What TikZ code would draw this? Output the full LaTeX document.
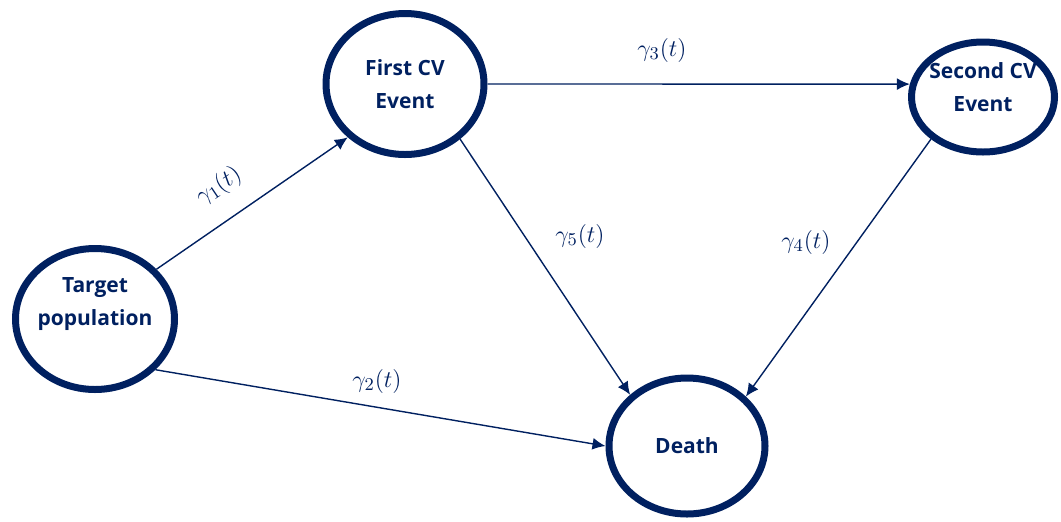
\documentclass[tikz,border=0pt]{standalone}
\usepackage{xcolor}
\usepackage{amsmath}
\usepackage{fontspec}
\usepackage{tikz}
\usetikzlibrary{arrows.meta}
\usetikzlibrary{shapes.geometric}
\newfontfamily\statefont{Open Sans}
\definecolor{navy}{RGB}{0,32,96}
\tikzset{
  state/.style={ellipse, draw=navy, line width=3.5pt, inner sep=0pt},
  statetext/.style={text=navy, font=\statefont\bfseries\fontsize{10.5}{16.5}\selectfont, align=center, inner sep=0pt},
  rate/.style={text=navy, font=\fontsize{13}{15}\selectfont, inner sep=0pt},
  flow/.style={-{Latex[length=6.5pt, width=6pt]}, draw=navy, line width=0.7pt}
}

\begin{document}
\begin{tikzpicture}[x=0.5pt, y=-0.5pt]
\useasboundingbox (0, 0) rectangle (1061, 521);
\node [state, minimum width=79.5pt, minimum height=70.5pt,
  label={[statetext, yshift=7.5pt]center:Target\\population}] (tp) at (95, 319) {};
\node [state, minimum width=79pt, minimum height=70.5pt,
  label={[statetext]center:First CV\\Event}] (fcv) at (405, 84) {};
\node [state, minimum width=71.5pt, minimum height=55pt,
  label={[statetext, yshift=5pt]center:Second CV\\Event}] (scv) at (983, 97) {};
\node [state, minimum width=78pt, minimum height=68pt,
  label={[statetext]center:Death}] (death) at (687, 446) {};
\node [rate, rotate=34] (g1) at (219, 186) {$\gamma_1(t)$};
\node [rate] (g2) at (377, 381) {$\gamma_2(t)$};
\node [rate] (g3) at (662, 50) {$\gamma_3(t)$};
\node [rate] (g4) at (806, 242) {$\gamma_4(t)$};
\node [rate] (g5) at (580, 236) {$\gamma_5(t)$};
\draw [flow] (tp.39) to (fcv.223);
\draw [flow] (tp.-40) to (death.180);
\draw [flow] (fcv.0) to (scv.170);
\draw [flow] (fcv.-45) to (death.138);
\draw [flow] (scv.-141) to (death.40);
\end{tikzpicture}
\end{document}
